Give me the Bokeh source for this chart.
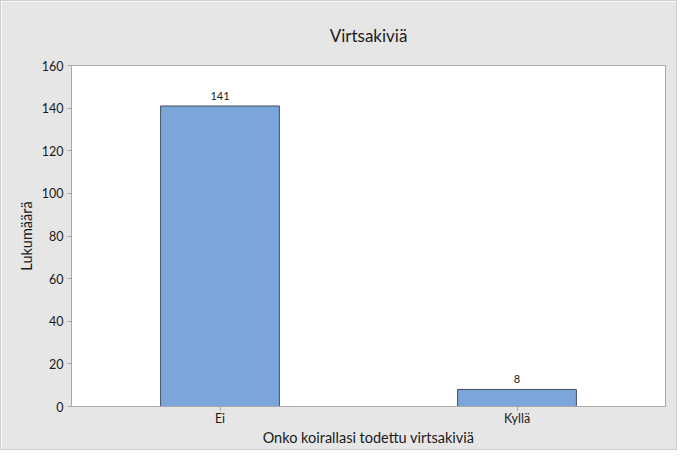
from bokeh.plotting import figure
from bokeh.models import ColumnDataSource, FactorRange, Range1d, FixedTicker, LabelSet
from bokeh.core.properties import value
from bokeh.embed import file_html
from bokeh.resources import INLINE

categories = ["Ei", "Kyllä"]
counts = [141, 8]
y_ticks = [0, 20, 40, 60, 80, 100, 120, 140, 160]
title_text = "Virtsakiviä"

FONT = "Lato"
TXT = "#1a1a1a"
GRID = "#a8a8a8"

src = ColumnDataSource(dict(cat=categories, n=counts, lbl=[str(v) for v in counts]))

p = figure(x_range=FactorRange(*categories, range_padding=0), y_range=Range1d(0, 160),
           width=677, height=450, output_backend="svg", toolbar_location=None,
           min_border_left=70, min_border_right=13, min_border_top=64, min_border_bottom=45)

p.vbar(x="cat", top="n", width=0.4, source=src, fill_color="#7ba6da",
       line_color="#44505c", line_width=1)

labels = LabelSet(x="cat", y="n", text="lbl", source=src, text_align="center",
                  text_baseline="bottom", y_offset=6, text_font_size="11px",
                  text_font=value(FONT), text_color=TXT)
p.add_layout(labels)

p.title.text = title_text
p.title.align = "center"
p.title.vertical_align = "bottom"
p.title.text_font = FONT
p.title.text_font_size = "17px"
p.title.text_font_style = "normal"
p.title.text_color = TXT
p.title.standoff = 39

p.background_fill_color = "white"
p.border_fill_color = "#e6e6e6"
p.outline_line_color = GRID
p.outline_line_width = 1
p.xgrid.grid_line_color = None
p.ygrid.grid_line_color = None

p.yaxis.ticker = FixedTicker(ticks=y_ticks)
p.yaxis.axis_label = "Lukumäärä"
p.xaxis.axis_label = "Onko koirallasi todettu virtsakiviä"
for ax in (p.xaxis, p.yaxis):
    ax.axis_line_color = GRID
    ax.major_tick_line_color = GRID
    ax.minor_tick_line_color = None
    ax.major_tick_in = 0
    ax.major_tick_out = 4
    ax.major_label_text_font = FONT
    ax.major_label_text_font_size = "12.5px"
    ax.major_label_text_color = TXT
    ax.axis_label_text_font = FONT
    ax.axis_label_text_font_size = "14.5px"
    ax.axis_label_text_font_style = "normal"
    ax.axis_label_text_color = TXT
p.xaxis.major_label_standoff = 0
p.xaxis.axis_label_standoff = 0
p.yaxis.major_label_standoff = 4
p.yaxis.axis_label_standoff = 4
p.styles = {"border": "1px solid #cfcfcf"}

open("out.html", "w").write(file_html(p, INLINE))
